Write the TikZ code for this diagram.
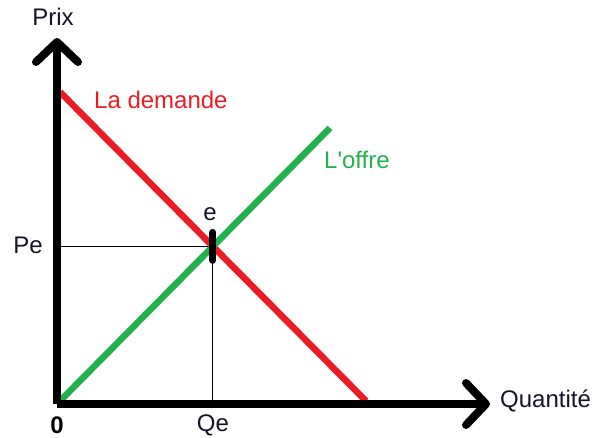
\documentclass[tikz,border=0pt]{standalone}
\usepackage{fontspec}
\setmainfont{Liberation Sans}
\usepackage{xcolor}
\usetikzlibrary{arrows.meta,intersections}
\definecolor{DemRed}{RGB}{237,28,36}
\definecolor{OffGreen}{RGB}{34,177,76}
\definecolor{TxtDark}{RGB}{20,20,40}
\tikzset{
  axis/.style={line width=8pt,-{Straight Barb[length=20pt,width=42pt,round]}},
  curve/.style={line width=6.5pt},
  guide/.style={line width=1.2pt,black},
  lbl/.style={font=\fontsize{24}{28}\selectfont,inner sep=0pt,text=TxtDark},
}
\begin{document}
\begin{tikzpicture}[x=1pt,y=-1pt]
  \useasboundingbox (0,0) rectangle (597,438);
  % axes
  \coordinate (O) at (57,404);
  \coordinate (Xtip) at (490,404);
  \coordinate (Ytip) at (57,38);
  % curves
  \path[name path=dem] (60,92) coordinate (D1) -- (366,401) coordinate (D2);
  \path[name path=off] (60,401) coordinate (S1) -- (330,128) coordinate (S2);
  \path[name intersections={of=dem and off,by=E}];
  % guide lines
  \draw[guide] (O |- E) -- (E);
  \draw[guide] (E) -- (E |- O);
  \draw[curve,DemRed] (D1) -- (D2);
  \draw[curve,OffGreen] (S1) -- (S2);
  \draw[axis] (O) -- (Ytip);
  \draw[axis] (O) -- (Xtip);
  \draw[line width=7pt,line cap=round] ([yshift=-14pt]E) -- ([yshift=14pt]E);
  % labels
  \node[lbl] (prix) at (53,17) {Prix};
  \node[lbl,anchor=west] (quant) at (500,401) {Quantité};
  \node[lbl,text=DemRed,anchor=west] (dem) at (94,100) {La demande};
  \node[lbl,text=OffGreen,anchor=west] (off) at (324,160) {L\textquotesingle offre};
  \node[lbl] (e) at (210,214) {e};
  \node[lbl] (pe) at (28,245) {Pe};
  \node[lbl] (qe) at (E |- 0,425) {Qe};
  \node[lbl,font=\fontsize{24}{28}\selectfont\bfseries,text=black] (zero) at (57,425) {0};
\end{tikzpicture}
\end{document}
